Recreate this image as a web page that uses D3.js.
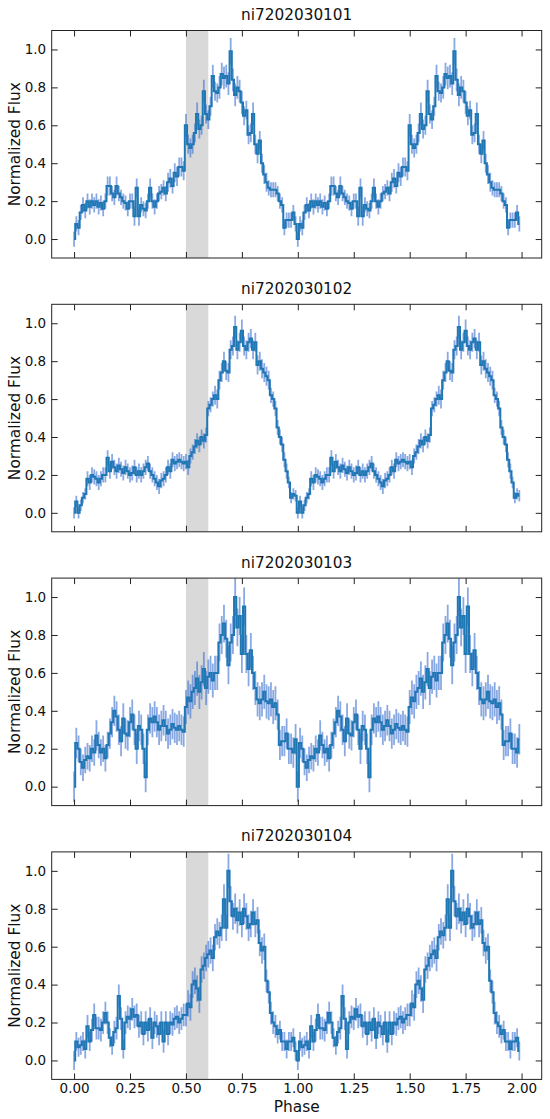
<!DOCTYPE html>
<html><head><meta charset="utf-8">
<script src="https://cdn.jsdelivr.net/npm/d3@7"></script>
<style>body{margin:0;background:#fff}</style>
</head><body>
<svg id="chart" width="550" height="1119"></svg>
<script>
// ---------- DATA ----------
const titles = ["ni7202030101", "ni7202030102", "ni7202030103", "ni7202030104"];
const binsPerCycle = 100;   // phase bins of width 0.01
const cyclesShown = 2;      // profile plotted twice (phase 0-2)

const fluxP1 = [0.00,0.08,0.06,0.14,0.18,0.15,0.20,0.17,0.20,0.18,
  0.20,0.17,0.19,0.16,0.20,0.28,0.28,0.24,0.22,0.28,
  0.24,0.22,0.20,0.19,0.16,0.20,0.20,0.12,0.27,0.12,
  0.18,0.16,0.15,0.20,0.27,0.20,0.17,0.20,0.24,0.25,
  0.27,0.24,0.30,0.32,0.28,0.35,0.33,0.38,0.38,0.36,
  0.60,0.50,0.48,0.50,0.56,0.66,0.58,0.60,0.78,0.66,
  0.63,0.70,0.86,0.78,0.77,0.80,0.87,0.85,0.86,0.82,
  0.99,0.84,0.76,0.80,0.78,0.72,0.65,0.68,0.55,0.56,
  0.66,0.50,0.45,0.52,0.40,0.34,0.30,0.27,0.26,0.26,
  0.26,0.24,0.20,0.18,0.06,0.10,0.10,0.10,0.14,0.08];
const errP1 = [0.04,0.04,0.04,0.04,0.04,0.04,0.04,0.04,0.04,0.04,
  0.04,0.04,0.04,0.04,0.04,0.05,0.05,0.04,0.04,0.05,
  0.04,0.04,0.04,0.04,0.04,0.04,0.04,0.05,0.05,0.05,
  0.04,0.04,0.04,0.04,0.05,0.04,0.04,0.04,0.04,0.04,
  0.04,0.04,0.05,0.05,0.04,0.05,0.05,0.05,0.05,0.05,
  0.06,0.05,0.05,0.05,0.05,0.06,0.05,0.05,0.06,0.05,
  0.05,0.05,0.06,0.05,0.05,0.06,0.06,0.06,0.06,0.06,
  0.07,0.06,0.06,0.06,0.06,0.06,0.05,0.05,0.05,0.05,
  0.06,0.05,0.05,0.05,0.05,0.05,0.05,0.04,0.04,0.04,
  0.04,0.04,0.04,0.04,0.04,0.04,0.04,0.04,0.04,0.04];

const fluxP2 = [0.00,0.06,0.00,0.04,0.08,0.10,0.18,0.16,0.20,0.19,
  0.18,0.16,0.18,0.20,0.20,0.29,0.22,0.27,0.24,0.22,
  0.25,0.23,0.21,0.24,0.22,0.20,0.21,0.24,0.20,0.22,
  0.20,0.22,0.24,0.26,0.22,0.20,0.18,0.16,0.14,0.17,
  0.18,0.20,0.24,0.22,0.28,0.26,0.27,0.28,0.27,0.26,
  0.27,0.24,0.30,0.32,0.35,0.38,0.36,0.40,0.38,0.41,
  0.55,0.57,0.60,0.62,0.60,0.70,0.74,0.80,0.75,0.74,
  0.86,0.88,0.98,0.86,0.90,0.96,0.88,0.86,0.90,0.92,
  0.86,0.90,0.78,0.80,0.76,0.74,0.72,0.70,0.62,0.60,
  0.55,0.45,0.40,0.36,0.28,0.22,0.16,0.08,0.10,0.09];
const errP2 = [0.03,0.03,0.03,0.03,0.03,0.03,0.04,0.04,0.04,0.04,
  0.04,0.04,0.04,0.04,0.04,0.04,0.04,0.04,0.04,0.04,
  0.04,0.04,0.04,0.04,0.04,0.04,0.04,0.04,0.04,0.04,
  0.04,0.04,0.04,0.04,0.04,0.04,0.04,0.04,0.04,0.04,
  0.04,0.04,0.04,0.04,0.04,0.04,0.04,0.04,0.04,0.04,
  0.04,0.04,0.04,0.04,0.04,0.04,0.04,0.04,0.04,0.04,
  0.04,0.04,0.04,0.05,0.05,0.05,0.05,0.05,0.05,0.05,
  0.05,0.05,0.06,0.05,0.05,0.06,0.05,0.05,0.05,0.05,
  0.05,0.05,0.05,0.05,0.05,0.05,0.05,0.05,0.04,0.04,
  0.04,0.04,0.04,0.04,0.04,0.04,0.03,0.03,0.03,0.03];

const fluxP3 = [0.00,0.23,0.20,0.13,0.10,0.14,0.16,0.15,0.20,0.18,
  0.27,0.22,0.18,0.20,0.15,0.22,0.28,0.34,0.40,0.37,
  0.30,0.24,0.36,0.28,0.27,0.34,0.38,0.30,0.20,0.32,
  0.30,0.20,0.05,0.30,0.36,0.34,0.37,0.34,0.30,0.32,
  0.35,0.32,0.28,0.30,0.33,0.31,0.30,0.32,0.30,0.29,
  0.42,0.47,0.45,0.50,0.52,0.57,0.50,0.55,0.62,0.52,
  0.58,0.60,0.56,0.60,0.60,0.76,0.80,0.86,0.78,0.64,
  0.76,0.80,1.00,0.84,0.90,0.70,0.95,0.70,0.62,0.72,
  0.60,0.52,0.46,0.44,0.46,0.50,0.45,0.44,0.46,0.42,
  0.44,0.38,0.22,0.24,0.24,0.28,0.20,0.20,0.18,0.25];
const errP3 = [0.08,0.08,0.07,0.07,0.07,0.07,0.07,0.07,0.07,0.07,
  0.08,0.07,0.07,0.07,0.07,0.07,0.08,0.08,0.08,0.08,
  0.08,0.08,0.08,0.08,0.08,0.08,0.08,0.08,0.08,0.08,
  0.08,0.08,0.08,0.08,0.08,0.08,0.08,0.08,0.08,0.08,
  0.08,0.08,0.08,0.08,0.08,0.08,0.08,0.08,0.08,0.08,
  0.09,0.09,0.09,0.09,0.09,0.09,0.09,0.09,0.09,0.09,
  0.09,0.09,0.09,0.09,0.09,0.10,0.10,0.10,0.10,0.10,
  0.10,0.10,0.10,0.10,0.10,0.10,0.10,0.10,0.09,0.09,
  0.09,0.09,0.09,0.09,0.09,0.09,0.09,0.09,0.09,0.09,
  0.09,0.08,0.08,0.08,0.08,0.08,0.08,0.08,0.08,0.08];

const fluxP4 = [0.00,0.10,0.07,0.08,0.10,0.06,0.18,0.10,0.16,0.24,
  0.17,0.17,0.16,0.20,0.25,0.20,0.12,0.08,0.15,0.17,
  0.34,0.22,0.06,0.20,0.23,0.22,0.27,0.23,0.24,0.18,
  0.20,0.14,0.20,0.16,0.22,0.12,0.20,0.18,0.14,0.20,
  0.10,0.20,0.14,0.20,0.19,0.22,0.23,0.20,0.22,0.24,
  0.24,0.30,0.28,0.40,0.42,0.38,0.32,0.48,0.50,0.54,
  0.56,0.58,0.54,0.65,0.68,0.66,0.70,0.85,0.70,1.00,
  0.84,0.76,0.80,0.74,0.78,0.72,0.80,0.76,0.70,0.72,
  0.78,0.72,0.74,0.62,0.58,0.60,0.42,0.36,0.25,0.20,
  0.18,0.14,0.16,0.10,0.10,0.06,0.10,0.10,0.12,0.05];
const errP4 = [0.05,0.05,0.05,0.05,0.05,0.05,0.06,0.05,0.06,0.06,
  0.06,0.06,0.06,0.06,0.06,0.06,0.05,0.05,0.06,0.06,
  0.06,0.06,0.05,0.06,0.06,0.06,0.06,0.06,0.06,0.06,
  0.06,0.06,0.06,0.06,0.06,0.06,0.06,0.06,0.06,0.06,
  0.06,0.06,0.06,0.06,0.06,0.06,0.06,0.06,0.06,0.06,
  0.06,0.07,0.07,0.07,0.07,0.07,0.07,0.07,0.07,0.07,
  0.07,0.07,0.07,0.07,0.07,0.07,0.07,0.08,0.07,0.09,
  0.08,0.07,0.08,0.07,0.07,0.07,0.08,0.07,0.07,0.07,
  0.07,0.07,0.07,0.07,0.07,0.07,0.06,0.06,0.06,0.06,
  0.06,0.05,0.05,0.05,0.05,0.05,0.05,0.05,0.05,0.05];

const fluxSeries = [fluxP1, fluxP2, fluxP3, fluxP4];
const errSeries = [errP1, errP2, errP3, errP4];
const xTicks = [0, 0.25, 0.5, 0.75, 1.0, 1.25, 1.5, 1.75, 2.0];
const yTicks = [0.0, 0.2, 0.4, 0.6, 0.8, 1.0];
const shadeRange = [0.5, 0.6];
const xLabel = "Phase";
const yLabel = "Normalized Flux";

// ---------- LAYOUT ----------
const FONT = "DejaVu Sans";
const left = 51.7, right = 541.7;
const panelTop0 = 30.5, panelStep = 273.8, panelH = 227.5;
const lineColor = "#1f77b4";
const errColor = "#3a6fd0";
const frameColor = "#222";

const svg = d3.select("#chart");
const x = d3.scaleLinear().domain([-0.1, 2.09]).range([left, right]);

fluxSeries.forEach((flux, pi) => {
  const err = errSeries[pi];
  const top = panelTop0 + pi * panelStep;
  const bottom = top + panelH;
  const y = d3.scaleLinear().domain([-0.1, 1.1]).range([bottom, top]);
  const g = svg.append("g");

  const pts = [];
  for (let c = 0; c < cyclesShown; c++) {
    flux.forEach((v, i) => pts.push({ph: c + i / binsPerCycle, f: v, e: err[i]}));
  }

  const clipId = "clip" + pi;
  svg.append("clipPath").attr("id", clipId).append("rect")
    .attr("x", left).attr("y", top).attr("width", right - left).attr("height", panelH);

  const plot = g.append("g").attr("clip-path", `url(#${clipId})`);

  plot.append("rect")
    .attr("x", x(shadeRange[0])).attr("width", x(shadeRange[1]) - x(shadeRange[0]))
    .attr("y", top).attr("height", panelH)
    .attr("fill", "#d9d9d9");

  plot.append("g").selectAll("line").data(pts).join("line")
    .attr("x1", d => x(d.ph)).attr("x2", d => x(d.ph))
    .attr("y1", d => y(d.f - d.e)).attr("y2", d => y(d.f + d.e))
    .attr("stroke", errColor).attr("stroke-opacity", 0.6).attr("stroke-width", 1.8);

  const line = d3.line().x(d => x(d.ph)).y(d => y(d.f)).curve(d3.curveStep);
  plot.append("path").datum(pts).attr("d", line)
    .attr("fill", "none").attr("stroke", lineColor).attr("stroke-width", 2)
    .attr("stroke-linejoin", "miter");

  const isLast = pi === fluxSeries.length - 1;
  const axB = g.append("g").attr("transform", `translate(0,${bottom})`)
    .call(d3.axisBottom(x).tickValues(xTicks).tickSizeInner(-6).tickSizeOuter(0).tickPadding(4.4)
      .tickFormat(isLast ? d3.format(".2f") : () => ""));
  const axT = g.append("g").attr("transform", `translate(0,${top})`)
    .call(d3.axisTop(x).tickValues(xTicks).tickSizeInner(-6).tickSizeOuter(0).tickFormat(() => ""));
  const axL = g.append("g").attr("transform", `translate(${left},0)`)
    .call(d3.axisLeft(y).tickValues(yTicks).tickSizeInner(-6).tickSizeOuter(0).tickPadding(5.5)
      .tickFormat(d3.format(".1f")));
  const axR = g.append("g").attr("transform", `translate(${right},0)`)
    .call(d3.axisRight(y).tickValues(yTicks).tickSizeInner(-6).tickSizeOuter(0).tickFormat(() => ""));
  [axB, axT, axL, axR].forEach(a => {
    a.select(".domain").remove();
    a.selectAll(".tick line").attr("stroke", frameColor).attr("stroke-width", 1);
    a.selectAll(".tick text").attr("font-family", FONT).attr("font-size", 13.5).attr("fill", "#111");
  });

  g.append("rect").attr("x", left).attr("y", top).attr("width", right - left).attr("height", panelH)
    .attr("fill", "none").attr("stroke", frameColor).attr("stroke-width", 1);

  g.append("text").attr("x", (left + right) / 2).attr("y", top - 10.5)
    .attr("text-anchor", "middle").attr("font-family", FONT).attr("font-size", 15.3)
    .attr("fill", "#111").text(titles[pi]);

  g.append("text").attr("transform", `translate(20,${(top + bottom) / 2}) rotate(-90)`)
    .attr("text-anchor", "middle").attr("font-family", FONT).attr("font-size", 15.4)
    .attr("fill", "#111").text(yLabel);

  if (isLast) {
    g.append("text").attr("x", (left + right) / 2).attr("y", 1112)
      .attr("text-anchor", "middle").attr("font-family", FONT).attr("font-size", 15.4)
      .attr("fill", "#111").text(xLabel);
  }
});
</script>
</body></html>
